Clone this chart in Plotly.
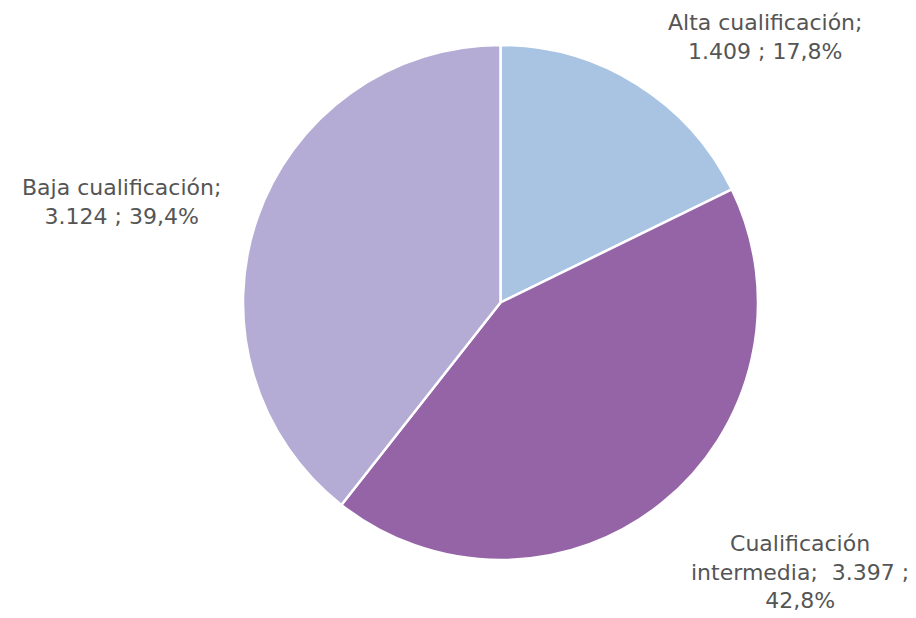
import plotly.graph_objects as go

categories = ["Alta cualificación", "Cualificación intermedia", "Baja cualificación"]
values = [1409, 3397, 3124]
colors = ["#a9c4e3", "#9564a7", "#b4acd4"]

W, H = 916, 618
OFF = 8  # page body margin offset
total = sum(values)

def fmt_int(v):
    return f"{v:,}".replace(",", ".")

def fmt_pct(v):
    return f"{100 * v / total:.1f}".replace(".", ",") + "%"

texts = [
    f"{categories[0]};<br>{fmt_int(values[0])} ; {fmt_pct(values[0])}",
    f"Cualificación<br>intermedia;  {fmt_int(values[1])} ;<br>{fmt_pct(values[1])}",
    f"{categories[2]};<br>{fmt_int(values[2])} ; {fmt_pct(values[2])}",
]
label_pos = [(765, 37), (800, 572), (121, 202)]

fig = go.Figure(go.Pie(
    labels=categories,
    values=values,
    sort=False,
    direction="clockwise",
    rotation=0,
    marker=dict(colors=colors, line=dict(color="white", width=2.5)),
    textinfo="none",
    hoverinfo="label+value+percent",
    showlegend=False,
    domain=dict(x=[(243 - OFF) / W, (758 - OFF) / W],
                y=[1 - (560 - OFF) / H, 1 - (45 - OFF) / H]),
))

for t, (x, y) in zip(texts, label_pos):
    fig.add_annotation(
        x=(x - OFF) / W, y=1 - (y - OFF) / H, xref="paper", yref="paper",
        text=t, showarrow=False, align="center",
        xanchor="center", yanchor="middle",
        font=dict(family="DejaVu Sans", size=22, color="#555555"),
    )

fig.update_layout(
    width=W, height=H,
    margin=dict(l=0, r=0, t=0, b=0),
    paper_bgcolor="white", plot_bgcolor="white",
)
fig.write_html("out.html")
